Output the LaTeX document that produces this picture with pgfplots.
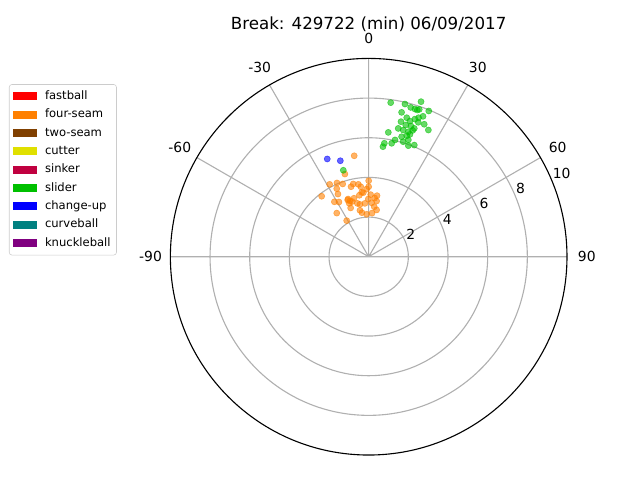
\documentclass[border=0pt]{standalone}
\usepackage{pgfplots}
\pgfplotsset{compat=1.18}
\usepgfplotslibrary{polar}
\usepackage{fontspec}
\setmainfont{DejaVu Sans}
\definecolor{cfast}{HTML}{FF0000}
\definecolor{cfour}{HTML}{FF8000}
\definecolor{ctwo}{HTML}{804000}
\definecolor{ccut}{HTML}{E0E000}
\definecolor{csink}{HTML}{C00040}
\definecolor{cslid}{HTML}{00C000}
\definecolor{cchg}{HTML}{0000FF}
\definecolor{ccurve}{HTML}{008080}
\definecolor{cknuck}{HTML}{800080}
\definecolor{gridgray}{HTML}{B0B0B0}
\pgfplotsset{patch/.style={legend image code/.code={\path[fill=#1, draw=none, fill opacity=1, rounded corners=0pt] (0cm,-0.1cm) rectangle (0.6cm,0.1cm);}}}
\begin{document}
\begin{tikzpicture}
\useasboundingbox (-265.4pt,-160.8pt) rectangle (195.3pt,184.8pt);
\begin{polaraxis}[
  name=ax, at={(0,0)}, anchor=center,
  width=285.5pt, height=285.5pt, scale only axis,
  xmin=0, xmax=360, ymin=0, ymax=10,
  xtick={0,30,...,180}, ytick={2,4,6,8},
  xticklabel=\empty, yticklabel=\empty,
  grid=major,
  major grid style={draw=gridgray, line width=0.8pt},
  axis line style={black, line width=0.8pt},
  y axis line style={draw=none},
  tick style={draw=none},
  clip=false,
  title={\fontsize{12}{14}\selectfont Break: 429722 (min) 06/09/2017},
  title style={at={(0.5,1)}, anchor=center, yshift=10.4pt},
  legend style={at={(-0.407,0.935)}, anchor=north west,
    draw=black!20, fill=white, fill opacity=0.8, text opacity=1,
    rounded corners=2pt,
    font=\fontsize{8.33}{10}\selectfont,
    nodes={text height=6.2pt, text depth=1.8pt, inner xsep=1.2pt, inner ysep=2.6pt},
    column sep=4.5pt, inner xsep=3pt,
    row sep=0pt},
  legend cell align=left,
]
\addlegendimage{patch=cfast}
\addlegendentry{fastball}
\addlegendimage{patch=cfour}
\addlegendentry{four-seam}
\addlegendimage{patch=ctwo}
\addlegendentry{two-seam}
\addlegendimage{patch=ccut}
\addlegendentry{cutter}
\addlegendimage{patch=csink}
\addlegendentry{sinker}
\addlegendimage{patch=cslid}
\addlegendentry{slider}
\addlegendimage{patch=cchg}
\addlegendentry{change-up}
\addlegendimage{patch=ccurve}
\addlegendentry{curveball}
\addlegendimage{patch=cknuck}
\addlegendentry{knuckleball}

% four-seam
\addplot[only marks, mark=*, mark size=2.2pt, color=cfour, opacity=0.6, data cs=cart, forget plot] coordinates {
(-0.73,5.09) (-1.20,4.17) (0.00,3.83) (0.00,3.53) (-1.97,3.65) (-1.60,3.72)
(-1.31,3.67) (-0.78,3.67) (-0.89,3.53) (-0.40,3.53) (-1.61,3.43) (-0.27,3.23)
(-1.55,3.16) (-2.37,3.05) (-0.47,3.10) (0.10,3.13) (0.42,3.08) (-0.74,2.95)
(-1.06,2.86) (-0.94,2.81) (-0.02,2.91) (0.30,2.96) (-1.73,2.77) (-1.50,2.76)
(-0.57,2.69) (-0.98,2.69) (-0.44,2.64) (0.15,2.72) (-0.19,2.69) (0.28,2.52)
(-0.91,2.46) (-0.44,2.34) (-0.34,2.22) (0.17,2.20) (-1.61,2.20) (-1.11,1.82)
(-0.52,3.65) (-0.10,3.41) (-0.35,3.25) (0.40,2.81) (0.40,2.36) (-0.84,2.78)
(-1.04,2.91) (-0.10,2.14)
};
% slider
\addplot[only marks, mark=*, mark size=2.2pt, color=cslid, opacity=0.6, data cs=cart, forget plot] coordinates {
(1.11,7.77) (1.83,7.70) (2.12,7.53) (2.33,7.45) (2.45,7.40) (2.55,7.43)
(2.64,7.82) (3.03,7.35) (1.66,7.28) (1.92,7.01) (2.08,6.84) (2.33,6.94)
(2.52,7.01) (2.74,7.08) (2.50,6.78) (2.13,6.59) (1.87,6.64) (1.63,6.81)
(2.80,6.68) (2.30,6.47) (1.74,6.39) (1.49,6.47) (2.00,6.30) (2.22,6.37)
(3.01,6.39) (1.92,6.10) (1.66,6.05) (2.08,6.17) (0.99,6.27) (1.33,5.89)
(2.00,5.89) (0.79,5.72) (1.16,5.72) (2.00,5.60) (0.72,5.55) (2.30,5.63)
(1.74,5.80) (-1.28,4.36)
};
% change-up
\addplot[only marks, mark=*, mark size=2.2pt, color=cchg, opacity=0.6, data cs=cart, forget plot] coordinates {
(-2.09,4.93) (-1.43,4.84)
};

% angle labels
\node[font=\fontsize{10}{12}\selectfont, anchor=center] at (axis cs:0,11.0) {90};
\node[font=\fontsize{10}{12}\selectfont, anchor=center] at (axis cs:30,11.0) {60};
\node[font=\fontsize{10}{12}\selectfont, anchor=center] at (axis cs:60,11.0) {30};
\node[font=\fontsize{10}{12}\selectfont, anchor=center] at (axis cs:90,11.0) {0};
\node[font=\fontsize{10}{12}\selectfont, anchor=center] at (axis cs:120,11.0) {-30};
\node[font=\fontsize{10}{12}\selectfont, anchor=center] at (axis cs:150,11.0) {-60};
\node[font=\fontsize{10}{12}\selectfont, anchor=center] at (axis cs:180,11.0) {-90};
% radial labels
\node[font=\fontsize{10}{12}\selectfont, anchor=south west, inner sep=0.5pt, yshift=1pt] at (axis cs:22.5,2) {2};
\node[font=\fontsize{10}{12}\selectfont, anchor=south west, inner sep=0.5pt, yshift=1pt] at (axis cs:22.5,4) {4};
\node[font=\fontsize{10}{12}\selectfont, anchor=south west, inner sep=0.5pt, yshift=1pt] at (axis cs:22.5,6) {6};
\node[font=\fontsize{10}{12}\selectfont, anchor=south west, inner sep=0.5pt, yshift=1pt] at (axis cs:22.5,8) {8};
\node[font=\fontsize{10}{12}\selectfont, anchor=south west, inner sep=0.5pt, yshift=1pt] at (axis cs:22.5,10) {10};
\end{polaraxis}
\end{tikzpicture}
\end{document}
